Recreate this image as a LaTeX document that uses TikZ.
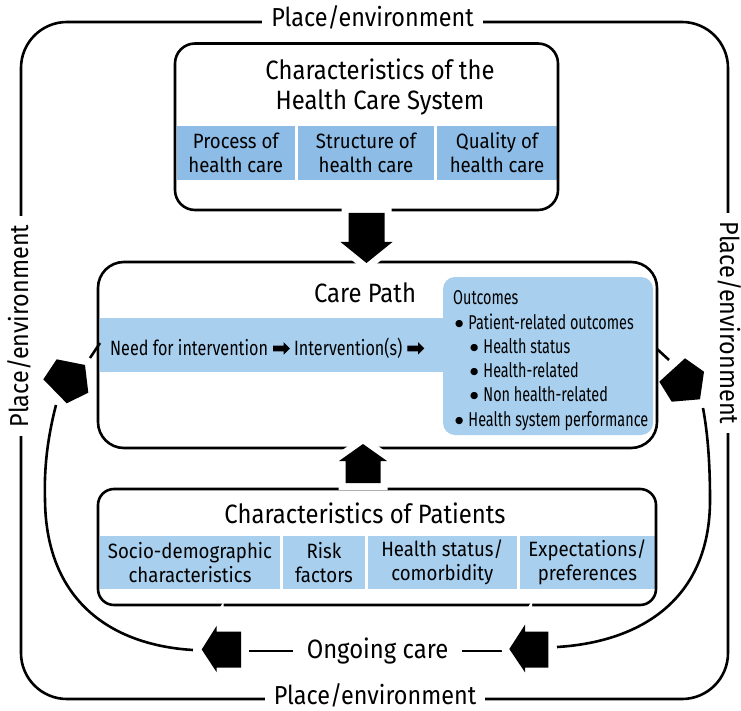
\documentclass[tikz,border=0pt]{standalone}
\usepackage{fontspec}
\setmainfont{Fira Sans}[FakeStretch=0.9]
\newfontfamily\outfont{Fira Sans}[FakeStretch=0.72]
\newfontfamily\needfont{Fira Sans}[FakeStretch=0.78]
\newfontfamily\symfont{DejaVu Sans}
\newfontfamily\symbold{DejaVu Sans}[FakeBold=4]
\definecolor{cellA}{HTML}{8DBDE6}
\definecolor{cellB}{HTML}{A8CFEE}
\newcommand\bul{\raisebox{2.5pt}{\symfont\fontsize{9.5}{9.5}\selectfont ●}\hspace{5pt}}
\newcommand\rarr{{\symbold\fontsize{21}{21}\selectfont ➡}}
\begin{document}
\begin{tikzpicture}[x=1pt,y=-1pt,
  frame/.style={draw=black,line width=2.6pt},
  boxx/.style={draw=black,line width=2.6pt,rounded corners=20pt,fill=none,inner sep=0pt},
  big/.style={font=\fontsize{26.5}{30}\selectfont,inner sep=0pt,anchor=base},
  envlbl/.style={font=\fontsize{26}{30}\selectfont,fill=white,inner xsep=9pt,inner ysep=2pt,anchor=base},
  cellt/.style={font=\fontsize{20.7}{24}\selectfont,inner sep=0pt,align=center},
  cellfill/.style={inner sep=0pt,draw=none},
  outl/.style={font=\outfont\fontsize{20}{24}\selectfont,inner sep=0pt,anchor=base west},
  conn/.style={line width=2.6pt},
  blockarr/.style={fill=black,preaction={draw=white,line width=14pt,line join=miter}},
  penta/.style={fill=black}
]
\useasboundingbox (0,0) rectangle (741,711);
% outer frame
\draw[frame,rounded corners=46pt] (21,22) rectangle (728,699);
\node[envlbl] (envT) at (372.5,27) {Place/environment};
\node[envlbl] (envB) at (375,704.5) {Place/environment};
\node[envlbl,rotate=90] (envL) at (28,326) {Place/environment};
\node[envlbl,rotate=-90] (envR) at (720,323) {Place/environment};

% top box
\node[cellfill,fill=cellA,minimum width=118.5pt,minimum height=54pt] (c1) at (235.75,153) {};
\node[cellfill,fill=cellA,minimum width=136pt,minimum height=54pt] (c2) at (366,153) {};
\node[cellfill,fill=cellA,minimum width=120pt,minimum height=54pt] (c3) at (497,153) {};
\node[cellt] (c1t) at (c1) {Process of\\health care};
\node[cellt] (c2t) at (c2) {Structure of\\health care};
\node[cellt] (c3t) at (c3) {Quality of\\health care};
\node[boxx,minimum width=383pt,minimum height=166.5pt] (hcs) at (366.5,126.75) {};
\node[big] (hcsT1) at (380,80) {Characteristics of the};
\node[big] (hcsT2) at (380,110) {Health Care System};

% care path
\node[cellfill,fill=cellB,minimum width=349pt,minimum height=54pt] (strip) at (274,345) {};
\node[boxx,rounded corners=26pt,minimum width=559pt,minimum height=186pt] (cp) at (377.5,355) {};
\node[big] (cpT) at (365,302) {Care Path};
\node[font=\needfont\fontsize{20.7}{24}\selectfont,inner sep=0pt,anchor=base west] (need) at (110,355)
  {Need for intervention \rarr\ Intervention(s) \rarr};
\node[fill=cellB,rounded corners=12pt,minimum width=210pt,minimum height=158pt,inner sep=0pt] (out) at (548,356) {};
\node[outl] (o1) at (453,304) {Outcomes};
\node[outl] (o2) at (455,329) {\bul Patient-related outcomes};
\node[outl] (o3) at (470,353) {\bul Health status};
\node[outl] (o4) at (470,377) {\bul Health-related};
\node[outl] (o5) at (470,401) {\bul Non health-related};
\node[outl] (o6) at (455,426) {\bul Health system performance};

% patients box
\node[cellfill,fill=cellB,minimum width=180pt,minimum height=53pt] (p1) at (190,562.5) {};
\node[cellfill,fill=cellB,minimum width=82pt,minimum height=53pt] (p2) at (324,562.5) {};
\node[cellfill,fill=cellB,minimum width=148.5pt,minimum height=53pt] (p3) at (442.25,562.5) {};
\node[cellfill,fill=cellB,minimum width=136pt,minimum height=53pt] (p4) at (587.5,562.5) {};
\node[cellt] (p1t) at (p1) {Socio-demographic\\characteristics};
\node[cellt] (p2t) at (p2) {Risk\\factors};
\node[cellt] (p3t) at (p3) {Health status/\\comorbidity};
\node[cellt] (p4t) at (p4) {Expectations/\\preferences};
\node[boxx,rounded corners=16pt,minimum width=558pt,minimum height=116pt] (pat) at (377,547) {};
\node[big] (patT) at (365,523) {Characteristics of Patients};

% ongoing care loop
\node[font=\fontsize{26.5}{30}\selectfont,inner sep=0pt,inner xsep=14pt] (og) at (377.5,651) {Ongoing care};
\coordinate (laBack) at (249,651);
\coordinate (raTip) at (502,651);
\coordinate (lcEnd) at (193,650);
\coordinate (lcTop) at (56,405);
\coordinate (lpOut) at (90,358);
\coordinate (cpL) at (100,343);
\coordinate (cpR) at (657,349);
\coordinate (rpIn) at (669,360);
\coordinate (rcTop) at (703,408);
\coordinate (rcEnd) at (557,647);
\draw[conn] (og.west) -- (laBack);
\draw[conn] (og.east) -- (raTip);
\draw[conn] (lcEnd) .. controls (110,645) and (46,600) .. (45,500) .. controls (44,470) and (47,440) .. (lcTop);
\draw[conn] (lpOut) -- (cpL);
\draw[conn] (cpR) -- (rpIn);
\draw[conn] (rcTop) .. controls (708,435) and (710,465) .. (710,500) .. controls (710,600) and (640,642) .. (rcEnd);

% block arrows
\fill[blockarr] (348.5,213) -- (384.5,213) -- (384.5,242) -- (392.5,242) -- (366.5,263) -- (340.5,242) -- (348.5,242) -- cycle;
\fill[blockarr] (345.5,483) -- (380.5,483) -- (380.5,461) -- (387,461) -- (363,444) -- (339,461) -- (345.5,461) -- cycle;
\fill[blockarr] (201.7,649.5) -- (216.7,625.7) -- (216.7,631.7) -- (241,631.7) -- (241,667.7) -- (216.7,667.7) -- (216.7,672.3) -- cycle;
\fill[blockarr] (509.3,649) -- (525,624.7) -- (525,631.7) -- (548.3,631.7) -- (548.3,667.7) -- (525,667.7) -- (525,672.3) -- cycle;
\fill[penta] (56.7,359.3) -- (85,365) -- (88.3,392.7) -- (66.7,403.3) -- (43.3,379.3) -- cycle;
\fill[penta] (659.3,381.7) -- (685,358.3) -- (704,371.7) -- (700,399.3) -- (671.7,401.7) -- cycle;
\end{tikzpicture}
\end{document}
